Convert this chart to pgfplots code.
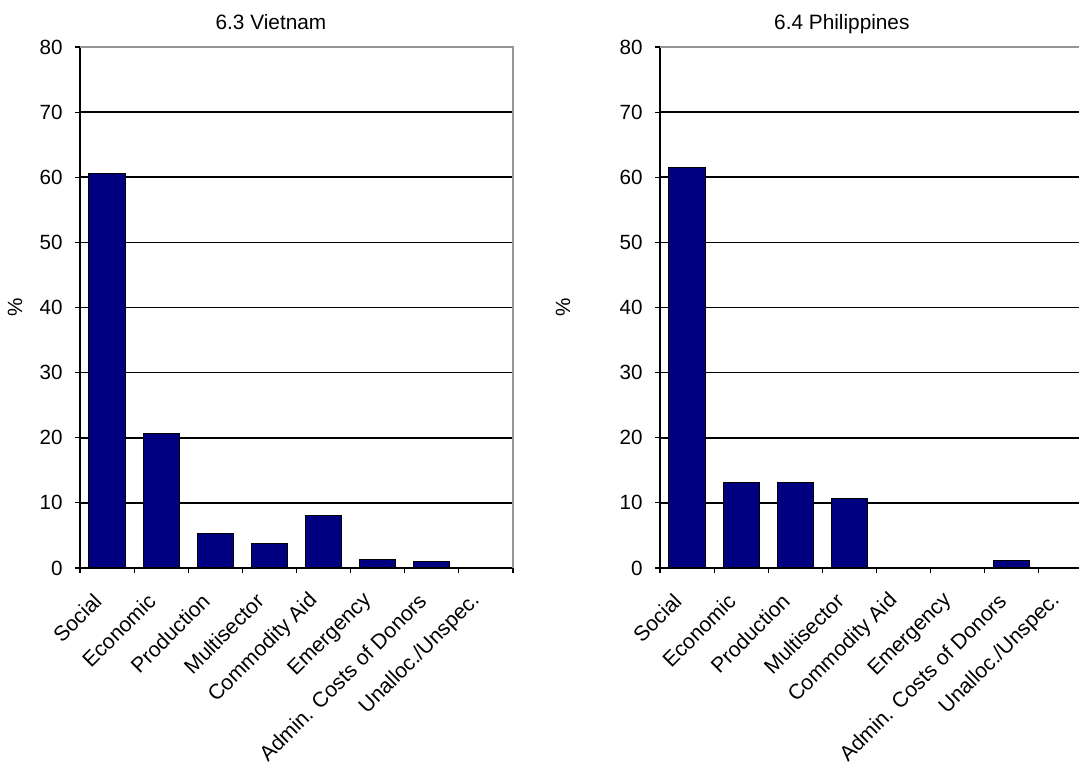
\documentclass[border=0pt]{standalone}
\usepackage{pgfplots}
\pgfplotsset{compat=1.18}
\usepackage{fontspec}
\setmainfont{Liberation Sans}
\definecolor{navybar}{RGB}{0,0,128}
\definecolor{framegray}{RGB}{150,150,150}
\pgfplotsset{
  sectorchart/.style={
    scale only axis,
    width=216.5pt, height=260.5pt,
    ybar, bar width=0.67,
    xmin=-0.5, xmax=7.5,
    ymin=0, ymax=80,
    ytick={0,10,...,80},
    xtick={0,...,7},
    xticklabels={Social,Economic,Production,Multisector,Commodity Aid,Emergency,Admin. Costs of Donors,Unalloc./Unspec.},
    minor xtick={-0.5,0.5,...,7.5},
    tick align=outside,
    major x tick style={draw=none},
    major tick length=2.5pt,
    minor tick length=2.5pt,
    tick style={black, line width=0.6pt},
    axis x line*=bottom, axis y line*=left,
    axis line style={black, line width=0.8pt, -},
    ymajorgrids,
    major grid style={black, line width=0.8pt},
    /pgf/number format/assume math mode=true,
    yticklabel style={font=\fontsize{10.3}{12}\selectfont, anchor=east, inner sep=0pt, xshift=-6pt},
    xticklabel style={font=\fontsize{10.6}{12}\selectfont, rotate=45, anchor=east, inner sep=0pt, xshift=-11.8pt, yshift=-5.3pt},
    label style={font=\fontsize{10.3}{12}\selectfont},
    title style={font=\fontsize{10.4}{12}\selectfont, anchor=base, inner sep=0pt},
    ylabel={\%},
    clip=false,
  }
}
\begin{document}
\begin{tikzpicture}[x=1pt,y=1pt]
\useasboundingbox (0,0) rectangle (539.5,384.5);
\begin{axis}[sectorchart, at={(40pt,100.5pt)}, anchor=south west,
  title={6.3 Vietnam}, title style={at={(axis description cs:0.441,1)}, yshift=2.5pt},
  ylabel style={at={(axis description cs:-0.150,0.5)}, anchor=center}]
\addplot[fill=navybar, draw=black, line width=0.5pt] coordinates {(0,60.6) (1,20.7) (2,5.3) (3,3.8) (4,8.1) (5,1.3) (6,1.0) (7,0)};
\draw[framegray, line width=0.8pt] (rel axis cs:0,1) -- (rel axis cs:1,1) -- (rel axis cs:1,0);
\end{axis}
\begin{axis}[sectorchart, at={(330pt,100.5pt)}, anchor=south west,
  title={6.4 Philippines}, title style={at={(axis description cs:0.420,1)}, yshift=2.5pt},
  ylabel style={at={(axis description cs:-0.224,0.5)}, anchor=center}]
\addplot[fill=navybar, draw=black, line width=0.5pt] coordinates {(0,61.5) (1,13.1) (2,13.1) (3,10.6) (4,0) (5,0) (6,1.2) (7,0)};
\draw[framegray, line width=0.8pt] (rel axis cs:0,1) -- (rel axis cs:1,1) -- (rel axis cs:1,0);
\end{axis}
\end{tikzpicture}
\end{document}
